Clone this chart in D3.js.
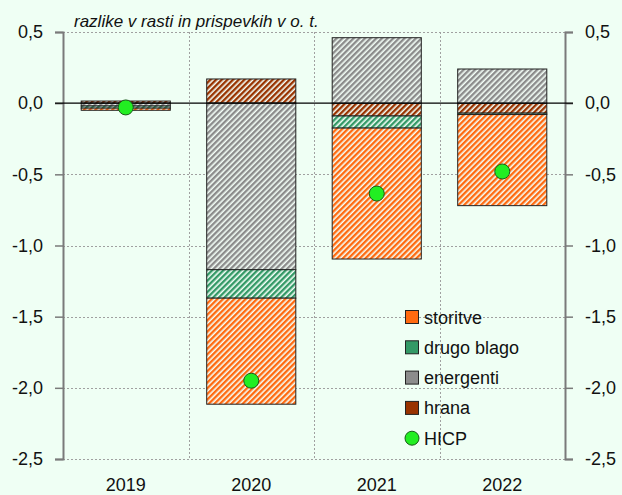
<!DOCTYPE html>
<html>
<head>
<meta charset="utf-8">
<script src="https://cdn.jsdelivr.net/npm/d3@7"></script>
<style>
  body { margin: 0; background: #effff4; }
  svg { display: block; font-family: "Liberation Sans", Arial, sans-serif; }
</style>
</head>
<body>
<div id="chart"></div>
<script>
// values (percentage points)
const categories = ["2019", "2020", "2021", "2022"];
const hrana = [0.015, 0.17, -0.09, -0.07];
const energenti = [-0.02, -1.17, 0.46, 0.24];
const drugoBlago = [-0.015, -0.20, -0.085, -0.01];
const storitve = [-0.015, -0.745, -0.92, -0.64];
const hicp = [-0.03, -1.95, -0.635, -0.48];
const yTicks = [0.5, 0, -0.5, -1, -1.5, -2, -2.5];

const width = 622, height = 495;
const plotLeft = 63, plotRight = 565, plotTop = 32, plotBottom = 459;

// stacking order: first series sits next to zero
const seriesKeys = ["hrana", "energenti", "drugoBlago", "storitve"];
const seriesColor = {
  hrana: "#993300",
  energenti: "#8c8c8c",
  drugoBlago: "#339966",
  storitve: "#ff6a10"
};
const legendItems = [
  { key: "storitve", label: "storitve" },
  { key: "drugoBlago", label: "drugo blago" },
  { key: "energenti", label: "energenti" },
  { key: "hrana", label: "hrana" },
  { key: "hicp", label: "HICP" }
];

const table = categories.map((c, i) => ({
  cat: c,
  hrana: hrana[i],
  energenti: energenti[i],
  drugoBlago: drugoBlago[i],
  storitve: storitve[i],
  hicp: hicp[i]
}));

const svg = d3.select("#chart").append("svg")
  .attr("width", width)
  .attr("height", height);

svg.append("rect").attr("width", width).attr("height", height).attr("fill", "#effff4");

// hatch patterns
const defs = svg.append("defs");
seriesKeys.forEach(k => {
  const p = defs.append("pattern")
    .attr("id", "hatch-" + k)
    .attr("patternUnits", "userSpaceOnUse")
    .attr("width", 4)
    .attr("height", 4)
    .attr("patternTransform", "rotate(45)");
  p.append("rect").attr("width", 4).attr("height", 4).attr("fill", "#f4fff8");
  p.append("rect").attr("width", 2.4).attr("height", 4).attr("fill", seriesColor[k]);
});

const x = d3.scaleBand()
  .domain(categories)
  .range([plotLeft, plotRight])
  .paddingInner(0.29)
  .paddingOuter(0.145);

const y = d3.scaleLinear().domain([-2.5, 0.5]).range([plotBottom, plotTop]);

// grid
const step = x.step();
svg.append("g").selectAll("line")
  .data(d3.range(1, categories.length))
  .join("line")
  .attr("x1", i => Math.round(plotLeft + i * step) + 0.5)
  .attr("x2", i => Math.round(plotLeft + i * step) + 0.5)
  .attr("y1", plotTop)
  .attr("y2", plotBottom)
  .attr("stroke", "#a0a0a0")
  .attr("stroke-dasharray", "2,2");

svg.append("g").selectAll("line")
  .data(yTicks.filter(d => d !== 0))
  .join("line")
  .attr("x1", plotLeft)
  .attr("x2", plotRight)
  .attr("y1", d => Math.round(y(d)) + 0.5)
  .attr("y2", d => Math.round(y(d)) + 0.5)
  .attr("stroke", "#a0a0a0")
  .attr("stroke-dasharray", "2,2");

// stacked bars
const stack = d3.stack().keys(seriesKeys).offset(d3.stackOffsetDiverging);
const layers = stack(table);

svg.append("g").selectAll("g")
  .data(layers)
  .join("g")
  .attr("fill", d => "url(#hatch-" + d.key + ")")
  .selectAll("rect")
  .data(d => d)
  .join("rect")
  .attr("x", d => x(d.data.cat))
  .attr("width", x.bandwidth())
  .attr("y", d => y(Math.max(d[0], d[1])))
  .attr("height", d => Math.abs(y(d[0]) - y(d[1])))
  .attr("stroke", "#222")
  .attr("stroke-width", 1);

// axes (hyphen minus and decimal comma, like the original)
const fmt = d => d.toFixed(1).replace(".", ",");
const axisLeft = d3.axisLeft(y).tickValues(yTicks).tickSize(8).tickPadding(12).tickFormat(fmt);
const axisRight = d3.axisRight(y).tickValues(yTicks).tickSize(8).tickPadding(12).tickFormat(fmt);

function styleAxis(g) {
  g.select(".domain").attr("stroke", "#7a7a7a").attr("stroke-width", 2);
  g.selectAll(".tick line").attr("stroke", "#7a7a7a").attr("stroke-width", 1.5);
  g.selectAll(".tick text").attr("font-size", 18).attr("fill", "#111")
    .attr("font-family", "'Liberation Sans', Arial, sans-serif");
}

svg.append("g").attr("transform", `translate(${plotLeft},0)`).call(axisLeft).call(styleAxis);
svg.append("g").attr("transform", `translate(${plotRight},0)`).call(axisRight).call(styleAxis)
  .selectAll(".tick text").attr("x", 20);

// zero line
svg.append("line")
  .attr("x1", plotLeft - 8)
  .attr("x2", plotRight + 8)
  .attr("y1", y(0))
  .attr("y2", y(0))
  .attr("stroke", "#000")
  .attr("stroke-width", 1.2);

// HICP points
svg.append("g").selectAll("circle")
  .data(table)
  .join("circle")
  .attr("cx", d => x(d.cat) + x.bandwidth() / 2)
  .attr("cy", d => y(d.hicp))
  .attr("r", 7.5)
  .attr("fill", "#22ee22")
  .attr("stroke", "#1a5a1a")
  .attr("stroke-width", 1);

// category labels
svg.append("g").selectAll("text")
  .data(categories)
  .join("text")
  .attr("x", d => x(d) + x.bandwidth() / 2)
  .attr("y", 491)
  .attr("text-anchor", "middle")
  .attr("font-size", 18)
  .attr("fill", "#111")
  .text(d => d);

// title
svg.append("text")
  .attr("x", 74)
  .attr("y", 27)
  .attr("font-size", 17)
  .attr("font-style", "italic")
  .attr("fill", "#111")
  .text("razlike v rasti in prispevkih v o. t.");

// legend
const legend = svg.append("g").attr("transform", "translate(405,317)");
const rows = legend.selectAll("g")
  .data(legendItems)
  .join("g")
  .attr("transform", (d, i) => `translate(0,${i * 30.3})`);

rows.filter(d => d.key !== "hicp").append("rect")
  .attr("x", 0.5)
  .attr("y", -6.5)
  .attr("width", 13)
  .attr("height", 13)
  .attr("fill", d => seriesColor[d.key])
  .attr("stroke", "#222");

rows.filter(d => d.key === "hicp").append("circle")
  .attr("cx", 7)
  .attr("cy", 0)
  .attr("r", 7)
  .attr("fill", "#22ee22")
  .attr("stroke", "#1a5a1a");

rows.append("text")
  .attr("x", 19)
  .attr("y", 6.5)
  .attr("font-size", 18)
  .attr("fill", "#111")
  .text(d => d.label);
</script>
</body>
</html>
